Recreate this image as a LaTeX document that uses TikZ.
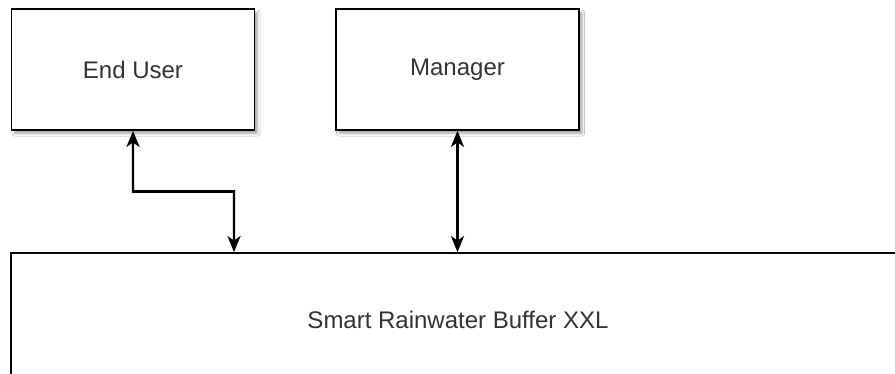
\documentclass[tikz,border=0pt]{standalone}
\usepackage{fontspec}
\setmainfont{Liberation Sans}
\usetikzlibrary{arrows.meta,shadows.blur}
\definecolor{txtgray}{HTML}{333333}
\definecolor{shade}{HTML}{8088A8}
\tikzset{
  soft/.style={blur shadow={shadow xshift=3pt, shadow yshift=-3.5pt,
      shadow blur radius=2.5pt, shadow blur steps=6, shadow opacity=35,
      shadow blur extra rounding=0pt}},
  actor/.style={draw=black, line width=1.8pt, fill=white, soft,
      minimum width=243pt, minimum height=121pt, inner sep=0pt,
      font=\fontsize{24}{28}\selectfont, text=txtgray},
  system/.style={draw=black, line width=1.8pt, fill=white, soft,
      minimum width=894pt, minimum height=134pt, inner sep=0pt,
      font=\fontsize{24}{28}\selectfont, text=txtgray},
  ctip/.tip={Stealth[length=16pt,width=13pt,inset=4.5pt]},
  link/.style={line width=2.2pt, draw=black, {ctip}-{ctip}},
  linkshade/.style={line width=3.5pt, draw=shade, opacity=0.3,
      {ctip}-{ctip}, xshift=3pt, yshift=-3.5pt},
}
\begin{document}
\begin{tikzpicture}[x=1pt,y=-1pt]
  \useasboundingbox (0,0) rectangle (895,373);
  \fill[white] (0,0) rectangle (895,373);
  \clip (0,0) rectangle (895,373);

  \node[actor]  (user) at (133,69.5)   {End User};
  \node[actor]  (mgr)  at (457.5,69.5) {Manager};
  \node[system] (sys)  at (458,320)    {Smart Rainwater Buffer XXL};

  \coordinate (bend) at (234,191.5);
  % soft shadows under the connectors
  \draw[linkshade] (user.south) |- (bend) -- (bend |- sys.north);
  \draw[linkshade] (mgr.south) -- (mgr.south |- sys.north);
  % connectors
  \draw[link] (user.south) |- (bend) -- (bend |- sys.north);
  \draw[link] (mgr.south) -- (mgr.south |- sys.north);
\end{tikzpicture}
\end{document}
